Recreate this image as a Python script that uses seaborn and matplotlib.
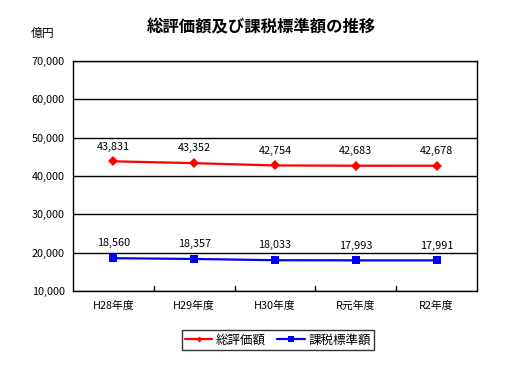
import matplotlib
matplotlib.use("Agg")
import matplotlib.pyplot as plt
import seaborn as sns
import pandas as pd

categories = ["H28年度", "H29年度", "H30年度", "R元年度", "R2年度"]
series_names = ["総評価額", "課税標準額"]
total_values = [43831, 43352, 42754, 42683, 42678]
taxable_values = [18560, 18357, 18033, 17993, 17991]
y_ticks = [10000, 20000, 30000, 40000, 50000, 60000, 70000]

sns.set_theme(style="white")
plt.rcParams["font.family"] = ["Noto Sans CJK JP", "DejaVu Sans"]
plt.rcParams["text.color"] = "black"
plt.rcParams["xtick.color"] = "black"
plt.rcParams["ytick.color"] = "black"
plt.rcParams["axes.labelcolor"] = "black"

df = pd.DataFrame({
    "x": list(range(len(categories))) * 2,
    "value": total_values + taxable_values,
    "series": [series_names[0]] * len(categories) + [series_names[1]] * len(categories),
})

fig = plt.figure(figsize=(5.19, 3.73), dpi=100)
ax = fig.add_axes([73 / 519, 1 - 291 / 373, (477 - 73) / 519, (291 - 61) / 373])

sns.lineplot(data=df, x="x", y="value", hue="series", style="series",
             palette={series_names[0]: "#ff0000", series_names[1]: "#0000ff"},
             markers={series_names[0]: "D", series_names[1]: "s"},
             dashes=False, markersize=5.5, linewidth=1.6, markeredgewidth=0,
             ax=ax, legend=False)

for vals in (total_values, taxable_values):
    for i, v in enumerate(vals):
        ax.annotate(f"{v:,}", (i, v), xytext=(0, 7), textcoords="offset points",
                    ha="center", va="bottom", fontsize=7.8, color="black")

ax.set_xlim(-0.5, len(categories) - 0.5)
ax.set_ylim(10000, 70000)
ax.set_yticks(y_ticks)
ax.set_yticklabels([f"{t:,}" for t in y_ticks], fontsize=7.8)
ax.set_xticks(range(len(categories)))
ax.set_xticklabels(categories, fontsize=7.8)
ax.tick_params(axis="x", length=0, pad=7)
ax.tick_params(axis="y", length=0, pad=6)
for b in [i + 0.5 for i in range(len(categories) - 1)]:
    ax.plot([b, b], [10000, 11300], color="black", lw=1, clip_on=False)
ax.grid(axis="y", color="black", lw=1)
ax.set_axisbelow(True)
for s in ax.spines.values():
    s.set_color("black")
    s.set_linewidth(1)
ax.set_xlabel("")
ax.set_ylabel("")

fig.text(261 / 519, 1 - 27 / 373, "総評価額及び課税標準額の推移", ha="center", va="center",
         fontsize=11.8, fontweight="bold")
fig.text(43 / 519, 1 - 33 / 373, "億円", ha="center", va="center", fontsize=8.5)

from matplotlib.lines import Line2D
handles = [
    Line2D([], [], color="#ff0000", marker="D", markersize=3, lw=1.6, markeredgewidth=0),
    Line2D([], [], color="#0000ff", marker="s", markersize=4, lw=1.6, markeredgewidth=0),
]
leg = fig.legend(handles, series_names, loc="center", bbox_to_anchor=(278 / 519, 1 - 340 / 373),
                 ncol=2, frameon=True, fontsize=9, fancybox=False, handlelength=2.2,
                 columnspacing=0.9, borderpad=0.25, handletextpad=0.3, borderaxespad=0)
leg.get_frame().set_edgecolor("black")
leg.get_frame().set_linewidth(1)

fig.savefig("out.png", dpi=100)
